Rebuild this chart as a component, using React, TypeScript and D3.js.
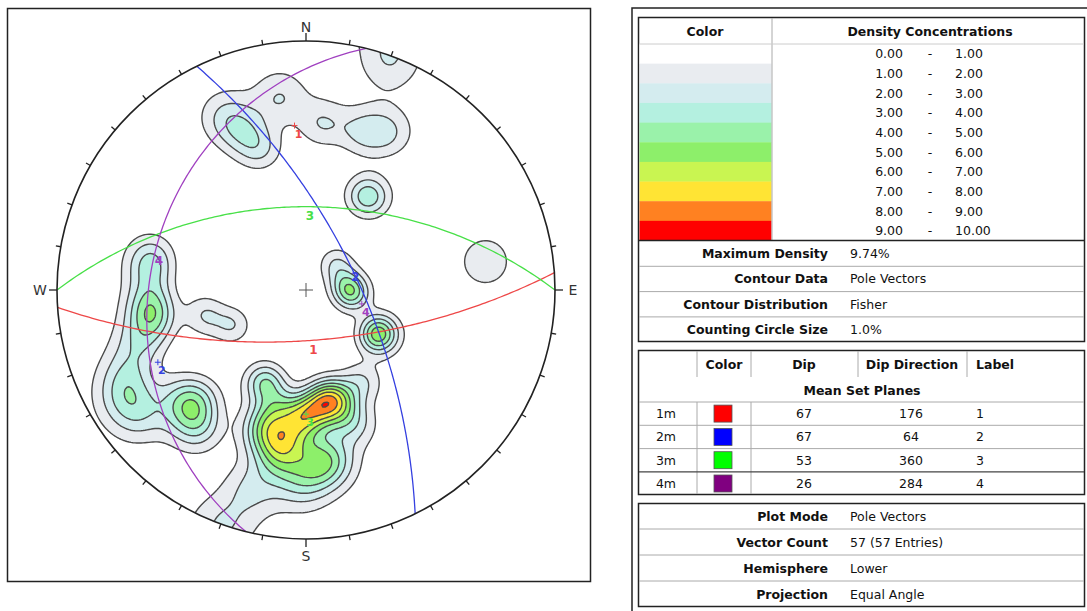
import React, { useMemo } from "react";
import * as d3 from "d3";

// ---------------- data ----------------
const densityLow = [0, 1, 2, 3, 4, 5, 6, 7, 8, 9];
const densityHigh = [1, 2, 3, 4, 5, 6, 7, 8, 9, 10];
const densityColors = [
  "#FFFFFF", "#E9ECF0", "#D4ECEF", "#B4F0E0", "#9AF2AA",
  "#8DEF6A", "#C9F551", "#FFE434", "#FF8121", "#FF0000",
];

const setIds = ["1m", "2m", "3m", "4m"];
const setSwatch = ["#FF0000", "#0000FF", "#00FF00", "#800080"];
const setLine = ["#EE4848", "#3540E0", "#48E048", "#A040C0"];
const setDip = [67, 67, 53, 26];
const setDipDir = [176, 64, 360, 284];
const setLabel = ["1", "2", "3", "4"];

// pole vectors (trend, plunge) read from the net — 57 entries
const poleTrend = [
  20,
  335.2, 338.1, 341.9, 352.3, 5.47, 19.52, 27.43,
  32, 35,
  81,
  50, 81, 94, 94,
  121, 121, 122,
  168.5, 168.5, 162.4, 174, 193.5, 165.3, 180.5, 183.9, 186.2, 187.5, 178.2, 197.4,
  189.2, 148.7, 203.8, 203.8, 160.1, 181.8, 170.4, 195.6, 196.5, 176.2, 192.7, 175.2,
  251.9, 244.6, 239.2, 233, 282.4, 276.6, 266.3, 261.9, 257.6,
  229.4, 224.5, 222.9, 256.1, 244.7, 218.05,
];
const polePlunge = [
  1,
  15.1, 21.6, 28.4, 13.9, 22.1, 22.1, 18.9,
  42, 41,
  18,
  72, 72, 69, 69,
  52, 52, 53,
  42.2, 42.2, 41.4, 40.6, 26.4, 36.3, 37.4, 34.4, 28.6, 24.1, 36.3, 29,
  20, 43.2, 45.6, 45.6, 30.1, 13.8, 20, 10.3, 33.6, 18.2, 39.3, 22.7,
  19.3, 13, 9.5, 10.3, 25, 25.5, 25.8, 25.7, 25.3,
  22.6, 27.4, 21.2, 44.6, 53.6, 19.7,
];

const infoLabels1 = ["Maximum Density", "Contour Data", "Contour Distribution", "Counting Circle Size"];
const infoValues1 = ["9.74%", "Pole Vectors", "Fisher", "1.0%"];
const infoLabels2 = ["Plot Mode", "Vector Count", "Hemisphere", "Projection"];
const infoValues2 = ["Pole Vectors", "57 (57 Entries)", "Lower", "Equal Angle"];

// ---------------- geometry ----------------
const CX = 306, CY = 290, R = 249;
const KAPPA = 110;
const STEP = 2, PAD = 14;
const FONT = "'DejaVu Sans', Verdana, sans-serif";

const xs = d3.scaleLinear().domain([-1, 1]).range([CX - R, CX + R]);
const ys = d3.scaleLinear().domain([-1, 1]).range([CY + R, CY - R]);
const rad = Math.PI / 180;

function vec(trend: number, plunge: number) {
  const t = trend * rad, p = plunge * rad;
  return [Math.cos(p) * Math.sin(t), Math.cos(p) * Math.cos(t), Math.sin(p)];
}
function proj(v: number[]): [number, number] {
  return [xs(v[0] / (1 + v[2])), ys(v[1] / (1 + v[2]))];
}

function buildContours() {
  const vs = poleTrend.map((t, i) => vec(t, polePlunge[i]));
  const N = vs.length;
  const x0 = CX - R - PAD, y0 = CY - R - PAD;
  const n = Math.ceil((2 * R + 2 * PAD) / STEP) + 1;
  const vals = new Float64Array(n * n);
  for (let j = 0; j < n; j++) {
    for (let i = 0; i < n; i++) {
      const u = xs.invert(x0 + i * STEP), w = ys.invert(y0 + j * STEP);
      const rr = u * u + w * w, den = 1 + rr;
      const e = (2 * u) / den, no = (2 * w) / den, dd = (1 - rr) / den;
      let s = 0;
      for (let k = 0; k < N; k++) {
        const c = Math.abs(e * vs[k][0] + no * vs[k][1] + dd * vs[k][2]);
        s += Math.exp(KAPPA * (c - 1));
      }
      vals[j * n + i] = (s * KAPPA) / N;
    }
  }
  const cs = d3.contours().size([n, n]).thresholds(d3.range(1, 10))(Array.from(vals));
  const path = d3.geoPath(d3.geoIdentity().scale(STEP).translate([x0 - STEP / 2, y0 - STEP / 2]) as any);
  return cs.map((c) => ({ v: c.value, d: path(c as any) || "" }));
}

function greatCircle(dip: number, dd: number) {
  const s = (dd - 90) * rad;
  const S = [Math.sin(s), Math.cos(s), 0];
  const D = vec(dd, dip);
  const pts: [number, number][] = d3.range(0, 180.5, 1).map((b) => {
    const cb = Math.cos(b * rad), sb = Math.sin(b * rad);
    return proj([cb * S[0] + sb * D[0], cb * S[1] + sb * D[1], cb * S[2] + sb * D[2]]);
  });
  return { d: d3.line()(pts) || "", mid: proj(D) };
}

export default function App() {
  const contours = useMemo(buildContours, []);
  const planes = setDip.map((dp, i) => ({ ...greatCircle(dp, setDipDir[i]), pole: proj(vec(setDipDir[i] + 180, 90 - dp)) }));
  const ticks = d3.range(0, 360, 10);
  const rowH = 19.65;
  const txt = { fontFamily: FONT, fontSize: 12.5, fill: "#111" } as const;
  return (
    <svg width={1087} height={611} style={{ position: "absolute", left: 0, top: 0, background: "#fff" }}>
      <defs>
        <clipPath id="net">
          <circle cx={CX} cy={CY} r={R} />
        </clipPath>
      </defs>
      {/* left frame */}
      <rect x={7.5} y={8.5} width={583} height={573} fill="none" stroke="#222" strokeWidth={1.5} />
      <g clipPath="url(#net)">
        <circle cx={CX} cy={CY} r={R} fill="#fff" />
        {contours.map((c) => (
          <path key={c.v} d={c.d} fill={densityColors[c.v]} stroke="#4a4a4a" strokeWidth={1.4} strokeLinejoin="round" />
        ))}
        {planes.map((p, i) => (
          <path key={i} d={p.d} fill="none" stroke={setLine[i]} strokeWidth={1.3} />
        ))}
      </g>
      {/* center cross */}
      <path d={`M${CX - 7},${CY}H${CX + 7}M${CX},${CY - 7}V${CY + 7}`} stroke="#555" strokeWidth={1} />
      {planes.map((p, i) => (
        <g key={i} fill={setLine[i]} style={{ fontFamily: FONT, fontSize: 12, fontWeight: 700 }}>
          <text x={p.mid[0] + 4} y={p.mid[1] + 13} textAnchor="middle">{setLabel[i]}</text>
          <path d={`M${p.pole[0] - 3},${p.pole[1]}h6M${p.pole[0]},${p.pole[1] - 3}v6`} stroke={setLine[i]} strokeWidth={1} />
          <text x={p.pole[0] + 4} y={p.pole[1] + 12} textAnchor="middle" style={{ fontSize: 11 }}>{setLabel[i]}</text>
        </g>
      ))}
      <circle cx={CX} cy={CY} r={R} fill="none" stroke="#222" strokeWidth={1.6} />
      {ticks.map((a) => {
        const len = a % 90 === 0 ? 8 : 5;
        const s = Math.sin(a * rad), c = Math.cos(a * rad);
        return (
          <line key={a} x1={CX + R * s} y1={CY - R * c} x2={CX + (R + len) * s} y2={CY - (R + len) * c} stroke="#222" strokeWidth={1.3} />
        );
      })}
      <g style={{ fontFamily: FONT, fontSize: 14, fill: "#333" }} textAnchor="middle">
        <text x={CX} y={CY - R - 9}>N</text>
        <text x={CX + R + 18} y={CY + 5}>E</text>
        <text x={CX} y={CY + R + 22}>S</text>
        <text x={CX - R - 17} y={CY + 5}>W</text>
      </g>

      {/* right panel frame */}
      <path d="M632,611V8H1087" fill="none" stroke="#222" strokeWidth={1.5} />
      {/* table 1 */}
      <rect x={638.5} y={17.5} width={446} height={324} fill="none" stroke="#222" strokeWidth={1.5} />
      {densityColors.map((c, k) => (
        <rect key={k} x={639.5} y={44 + k * rowH} width={132} height={rowH + 0.3} fill={c} />
      ))}
      <line x1={772} x2={772} y1={18} y2={240} stroke="#aaa" />
      <line x1={639} x2={1084} y1={44} y2={44} stroke="#ccc" />
      <text {...txt} x={705} y={36} textAnchor="middle" fontWeight={700}>Color</text>
      <text {...txt} x={930} y={36} textAnchor="middle" fontWeight={700}>Density Concentrations</text>
      {densityLow.map((lo, k) => {
        const y = 44 + (k + 0.5) * rowH + 4.5;
        return (
          <g key={k}>
            <text {...txt} x={903} y={y} textAnchor="end">{lo.toFixed(2)}</text>
            <text {...txt} x={930} y={y} textAnchor="middle">-</text>
            <text {...txt} x={955} y={y}>{densityHigh[k].toFixed(2)}</text>
          </g>
        );
      })}
      <line x1={638} x2={1085} y1={240.5} y2={240.5} stroke="#222" strokeWidth={1.5} />
      {infoLabels1.map((l, k) => {
        const top = 241 + k * 25.3;
        return (
          <g key={k}>
            {k > 0 && <line x1={639} x2={1084} y1={top} y2={top} stroke="#aaa" />}
            <text {...txt} x={828} y={top + 17} textAnchor="end" fontWeight={700}>{l}</text>
            <text {...txt} x={850} y={top + 17}>{infoValues1[k]}</text>
          </g>
        );
      })}

      {/* table 2 */}
      <rect x={638.5} y={350.5} width={446} height={144} fill="none" stroke="#222" strokeWidth={1.5} />
      {[697, 751, 858, 967].map((x) => (
        <line key={x} x1={x} x2={x} y1={351} y2={377} stroke="#aaa" />
      ))}
      {[697, 751].map((x) => (
        <line key={"b" + x} x1={x} x2={x} y1={402} y2={494} stroke="#aaa" />
      ))}
      <text {...txt} x={724} y={369} textAnchor="middle" fontWeight={700}>Color</text>
      <text {...txt} x={804} y={369} textAnchor="middle" fontWeight={700}>Dip</text>
      <text {...txt} x={912} y={369} textAnchor="middle" fontWeight={700}>Dip Direction</text>
      <text {...txt} x={976} y={369} fontWeight={700}>Label</text>
      <text {...txt} x={862} y={395} textAnchor="middle" fontWeight={700}>Mean Set Planes</text>
      {setIds.map((id, k) => {
        const top = 402 + k * 23.3;
        const cy = top + 11.6;
        return (
          <g key={id}>
            <line x1={639} x2={1084} y1={top} y2={top} stroke={k === 3 ? "#444" : "#aaa"} strokeWidth={k === 3 ? 1.4 : 1} />
            <text {...txt} x={666} y={cy + 4.5} textAnchor="middle">{id}</text>
            <rect x={714} y={cy - 8.5} width={18} height={17} fill={setSwatch[k]} stroke="#555" strokeWidth={0.8} />
            <text {...txt} x={804} y={cy + 4.5} textAnchor="middle">{setDip[k]}</text>
            <text {...txt} x={911} y={cy + 4.5} textAnchor="middle">{setDipDir[k]}</text>
            <text {...txt} x={976} y={cy + 4.5}>{setLabel[k]}</text>
          </g>
        );
      })}

      {/* table 3 */}
      <rect x={638.5} y={503.5} width={446} height={103} fill="none" stroke="#222" strokeWidth={1.5} />
      {infoLabels2.map((l, k) => {
        const top = 503 + k * 26;
        return (
          <g key={k}>
            {k > 0 && <line x1={639} x2={1084} y1={top} y2={top} stroke="#aaa" />}
            <text {...txt} x={828} y={top + 18} textAnchor="end" fontWeight={700}>{l}</text>
            <text {...txt} x={850} y={top + 18}>{infoValues2[k]}</text>
          </g>
        );
      })}
    </svg>
  );
}
